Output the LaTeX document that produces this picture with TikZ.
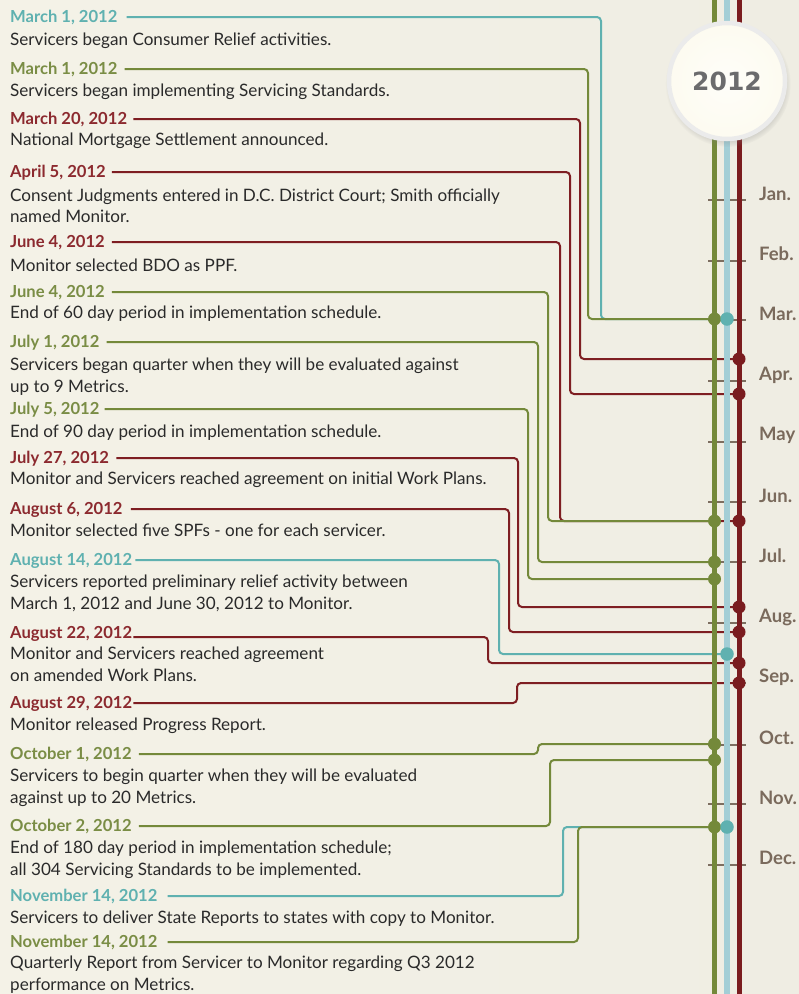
\documentclass[tikz,border=0pt]{standalone}
\usepackage{fontspec}
\setmainfont{Lato}
\newfontfamily\yearfont{DejaVu Sans}
\usetikzlibrary{shadows}
\definecolor{bgL}{HTML}{F4F2E7}
\definecolor{bgM}{HTML}{FDFBF0}
\definecolor{bgR}{HTML}{EFEDE3}
\definecolor{cTeal}{HTML}{5FB1B0}
\definecolor{cBlue}{HTML}{A3CED6}
\definecolor{cGreen}{HTML}{74893A}
\definecolor{tGreen}{HTML}{7A8D45}
\definecolor{cRed}{HTML}{7E1E22}
\definecolor{tRed}{HTML}{8C2A2F}
\definecolor{vRed}{HTML}{7A1C1F}
\definecolor{txt}{HTML}{2A2A2A}
\definecolor{mon}{HTML}{7A6A5C}
\definecolor{tickc}{HTML}{7D6E60}
\definecolor{yeartxt}{HTML}{6B6B6D}
\pgfdeclarelayer{back}
\pgfdeclarelayer{conn}
\pgfdeclarelayer{vert}
\pgfsetlayers{back,conn,vert,main}
\begin{document}
\begin{tikzpicture}[x=1pt,y=-1pt,
  date/.style={anchor=west,inner sep=0pt,text height=11.5pt,text depth=0pt,font=\fontsize{16.6}{18}\selectfont\bfseries},
  desc/.style={anchor=west,inner sep=0pt,text height=11.5pt,text depth=0pt,text=txt,font=\fontsize{17.1}{18}\selectfont},
  month/.style={anchor=west,inner sep=0pt,text=mon,font=\fontsize{18.5}{20}\selectfont\bfseries},
  conn/.style={line width=2pt,rounded corners=4pt},
  dotG/.style={circle,fill=cGreen,inner sep=0pt,minimum size=13pt},
  dotR/.style={circle,fill=vRed,inner sep=0pt,minimum size=13pt},
  dotB/.style={circle,fill=cTeal,inner sep=0pt,minimum size=13.5pt},
  tickl/.style={draw=tickc,line width=2pt}]
\useasboundingbox (0,0) rectangle (799,994);
\begin{pgfonlayer}{back}
\shade[left color=bgL,middle color=bgM,right color=bgR] (0,0) rectangle (799,994);
\foreach \yy in {200,261,320,381,442,502,562,623,683,745,804,865}
  \draw[tickl] (708,\yy) -- (746,\yy);
\end{pgfonlayer}
\begin{pgfonlayer}{vert}
\draw[cGreen,line width=5.5pt] (714.5,0) -- (714.5,994);
\draw[cBlue,line width=5.5pt] (727,0) -- (727,994);
\draw[vRed,line width=5pt] (739,0) -- (739,994);
\end{pgfonlayer}
% year circle
\node[circle,minimum size=116pt,inner sep=0pt,draw=black!8,line width=4.5pt,
  inner color=white!60!bgM,outer color=bgM,
  circular drop shadow={shadow xshift=1pt,shadow yshift=-3pt,shadow scale=1.08,opacity=0.35}]
  (yr) at (727,81) {\yearfont\bfseries\fontsize{25}{28}\selectfont\color{yeartxt}2012};
% months
\node[month] (m1) at (759,194) {Jan.};
\node[month] (m2) at (759,254) {Feb.};
\node[month] (m3) at (759,314) {Mar.};
\node[month] (m4) at (759,375) {Apr.};
\node[month] (m5) at (759,435) {May};
\node[month] (m6) at (759,496) {Jun.};
\node[month] (m7) at (759,556) {Jul.};
\node[month] (m8) at (759,617) {Aug.};
\node[month] (m9) at (759,677) {Sep.};
\node[month] (m10) at (759,738) {Oct.};
\node[month] (m11) at (759,798) {Nov.};
\node[month] (m12) at (759,858) {Dec.};
% dots
\node[dotG] (dG1) at (714.5,319) {};
\node[dotB] (dB1) at (727,319) {};
\node[dotR] (dR1) at (739,359) {};
\node[dotR] (dR2) at (739,394) {};
\node[dotR] (dR3) at (739,521) {};
\node[dotG] (dG2) at (714.5,521) {};
\node[dotG] (dG3) at (714.5,562) {};
\node[dotG] (dG4) at (714.5,579) {};
\node[dotR] (dR4) at (739,607) {};
\node[dotR] (dR5) at (739,632) {};
\node[dotB] (dB2) at (727,654) {};
\node[dotR] (dR6) at (739,663) {};
\node[dotR] (dR7) at (739,683) {};
\node[dotG] (dG5) at (714.5,744) {};
\node[dotG] (dG6) at (714.5,760) {};
\node[dotG] (dG7) at (714.5,827) {};
\node[dotB] (dB3) at (727,827) {};
% texts
\node[date,text=cTeal] (t1) at (10,17) {March 1, 2012};
\node[desc] (e1) at (10,40) {Servicers began Consumer Relief activities.};
\node[date,text=tGreen] (t2) at (10,69) {March 1, 2012};
\node[desc] (e2) at (10,91) {Servicers began implementing Servicing Standards.};
\node[date,text=tRed] (t3) at (10,119) {March 20, 2012};
\node[desc] (e3) at (10,140) {National Mortgage Settlement announced.};
\node[date,text=tRed] (t4) at (10,172) {April 5, 2012};
\node[desc] (e4a) at (10,196) {Consent Judgments entered in D.C. District Court; Smith officially};
\node[desc] (e4b) at (10,217) {named Monitor.};
\node[date,text=tRed] (t5) at (10,242) {June 4, 2012};
\node[desc] (e5) at (10,266) {Monitor selected BDO as PPF.};
\node[date,text=tGreen] (t6) at (10,292) {June 4, 2012};
\node[desc] (e6) at (10,313) {End of 60 day period in implementation schedule.};
\node[date,text=tGreen] (t7) at (10,342) {July 1, 2012};
\node[desc] (e7a) at (10,365) {Servicers began quarter when they will be evaluated against};
\node[desc] (e7b) at (10,387) {up to 9 Metrics.};
\node[date,text=tGreen] (t8) at (10,409) {July 5, 2012};
\node[desc] (e8) at (10,432) {End of 90 day period in implementation schedule.};
\node[date,text=tRed] (t9) at (10,458) {July 27, 2012};
\node[desc] (e9) at (10,479) {Monitor and Servicers reached agreement on initial Work Plans.};
\node[date,text=tRed] (t10) at (10,509) {August 6, 2012};
\node[desc] (e10) at (10,531) {Monitor selected five SPFs - one for each servicer.};
\node[date,text=cTeal] (t11) at (10,560) {August 14, 2012};
\node[desc] (e11a) at (10,582) {Servicers reported preliminary relief activity between};
\node[desc] (e11b) at (10,604) {March 1, 2012 and June 30, 2012 to Monitor.};
\node[date,text=tRed] (t12) at (10,633) {August 22, 2012};
\node[desc] (e12a) at (10,654) {Monitor and Servicers reached agreement};
\node[desc] (e12b) at (10,676) {on amended Work Plans.};
\node[date,text=tRed] (t13) at (10,703) {August 29, 2012};
\node[desc] (e13) at (10,725) {Monitor released Progress Report.};
\node[date,text=tGreen] (t14) at (10,754) {October 1, 2012};
\node[desc] (e14a) at (10,776) {Servicers to begin quarter when they will be evaluated};
\node[desc] (e14b) at (10,798) {against up to 20 Metrics.};
\node[date,text=tGreen] (t15) at (10,826) {October 2, 2012};
\node[desc] (e15a) at (10,848) {End of 180 day period in implementation schedule;};
\node[desc] (e15b) at (10,870) {all 304 Servicing Standards to be implemented.};
\node[date,text=cTeal] (t16) at (10,896) {November 14, 2012};
\node[desc] (e16) at (10,918) {Servicers to deliver State Reports to states with copy to Monitor.};
\node[date,text=tGreen] (t17) at (10,942) {November 14, 2012};
\node[desc] (e17a) at (10,963) {Quarterly Report from Servicer to Monitor regarding Q3 2012};
\node[desc] (e17b) at (10,985) {performance on Metrics.};
% connectors
\begin{pgfonlayer}{conn}
\draw[conn,cTeal] ([xshift=9pt]t1.east) -| (601,0 |- dB1) -- (dB1.center);
\draw[conn,cGreen] ([xshift=7pt]t2.east) -| (588,0 |- dG1) -- (dG1.center);
\draw[conn,cRed] ([xshift=6pt]t3.east) -| (580,0 |- dR1) -- (dR1.center);
\draw[conn,cRed] ([xshift=6pt]t4.east) -| (570,0 |- dR2) -- (dR2.center);
\draw[conn,cRed] ([xshift=7pt]t5.east) -| (560,0 |- dR3) -- (dR3.center);
\draw[conn,cGreen] ([xshift=7pt]t6.east) -| (548,0 |- dG2) -- (dG2.center);
\draw[conn,cGreen] ([xshift=7pt]t7.east) -| (538,0 |- dG3) -- (dG3.center);
\draw[conn,cGreen] ([xshift=5pt]t8.east) -| (528,0 |- dG4) -- (dG4.center);
\draw[conn,cRed] ([xshift=7pt]t9.east) -| (518,0 |- dR4) -- (dR4.center);
\draw[conn,cRed] ([xshift=8pt]t10.east) -| (509,0 |- dR5) -- (dR5.center);
\draw[conn,cTeal] ([xshift=3pt]t11.east) -| (499,0 |- dB2) -- (dB2.center);
\draw[conn,cRed] ([xshift=1pt,yshift=-4pt]t12.east) -| (488,0 |- dR6) -- (dR6.center);
\draw[conn,cRed] ([xshift=1pt]t13.east) -| (517,0 |- dR7) -- (dR7.center);
\draw[conn,cGreen] ([xshift=7pt]t14.east) -| (538,0 |- dG5) -- (dG5.center);
\draw[conn,cGreen] ([xshift=7pt]t15.east) -| (550,0 |- dG6) -- (dG6.center);
\draw[conn,cTeal] ([xshift=10pt]t16.east) -| (563,0 |- dB3) -- (dB3.center);
\draw[conn,cGreen] ([xshift=10pt]t17.east) -| (578,0 |- dG7) -- (dG7.center);
\end{pgfonlayer}
\end{tikzpicture}
\end{document}
